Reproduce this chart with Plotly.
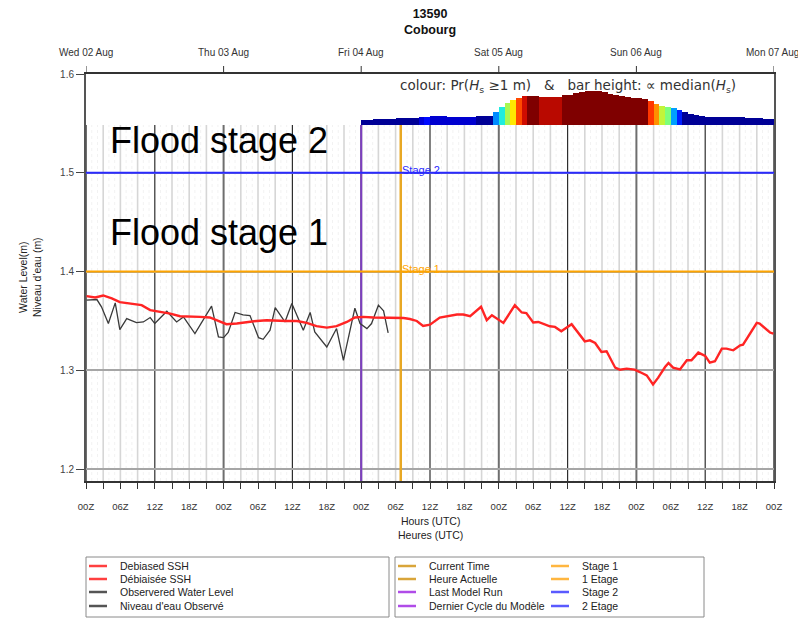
import pandas as pd
import plotly.graph_objects as go

START = pd.Timestamp("2023-08-02 00:00")

# Debiased SSH (hours since start, water level in m)
ssh_hours = [0.1, 1.6, 3.0, 4.5, 5.9, 7.7, 9.7, 11.2, 12.9, 14.7, 16.4, 18.1, 19.9, 21.6,
             23.4, 24.5, 26.3, 28.0, 29.8, 31.5, 33.3, 35.0, 36.8, 38.5, 40.2, 42.0, 43.7,
             45.5, 46.9, 48.4, 50.1, 51.9, 53.6, 55.4, 56.5, 57.7, 58.8, 60.0, 61.7, 63.2,
             64.7, 65.8, 67.0, 68.9, 69.9, 70.8, 71.6, 72.8, 74.8, 76.0, 76.8, 78.0, 78.9,
             80.9, 81.8, 82.9, 84.7, 87.0, 87.9, 88.8, 89.9, 90.8, 92.3, 93.1, 94.3, 95.7,
             96.6, 97.8, 98.9, 99.8, 101.0, 101.6, 102.4, 103.6, 104.8, 105.6, 106.8, 108.0,
             108.8, 109.7, 110.9, 111.7, 112.9, 114.1, 114.6, 117.0, 117.5, 119.3, 119.9]
ssh_level = [1.3751, 1.3738, 1.3758, 1.3728, 1.3690, 1.3677, 1.3660, 1.3610, 1.3592, 1.3575,
             1.3548, 1.3541, 1.3541, 1.3535, 1.3490, 1.3467, 1.3474, 1.3490, 1.3500, 1.3508,
             1.3500, 1.3500, 1.3500, 1.3480, 1.3447, 1.3433, 1.3447, 1.3490, 1.3535, 1.3541,
             1.3535, 1.3535, 1.3530, 1.3530, 1.3520, 1.3500, 1.3449, 1.3463, 1.3535, 1.3548,
             1.3565, 1.3565, 1.3548, 1.3643, 1.3508, 1.3558, 1.3524, 1.3480, 1.3660, 1.3586,
             1.3579, 1.3484, 1.3490, 1.3446, 1.3440, 1.3396, 1.3467, 1.3294, 1.3304, 1.3277,
             1.3186, 1.3193, 1.3027, 1.3007, 1.3017, 1.3007, 1.2983, 1.2949, 1.2858, 1.2926,
             1.3034, 1.3075, 1.3027, 1.3010, 1.3102, 1.3102, 1.3180, 1.3146, 1.3078, 1.3092,
             1.3220, 1.3220, 1.3203, 1.3254, 1.3260, 1.3480, 1.3474, 1.3383, 1.3372]

# Observed water level
obs_hours = [0.1, 1.9, 2.7, 3.9, 5.1, 5.9, 7.1, 8.8, 10.0, 11.2, 12.0, 14.1, 15.8, 17.0,
             19.0, 21.9, 23.1, 24.0, 24.8, 26.0, 27.4, 28.6, 30.1, 30.9, 32.1, 33.0, 34.7,
             35.9, 37.9, 39.1, 39.9, 42.0, 43.7, 44.9, 46.9, 47.8, 49.0, 49.8, 51.0, 51.9, 52.7]
obs_level = [1.3710, 1.3717, 1.3643, 1.3474, 1.3683, 1.3413, 1.3524, 1.3484, 1.3490, 1.3535,
             1.3474, 1.3599, 1.3490, 1.3541, 1.3372, 1.3650, 1.3338, 1.3331, 1.3383, 1.3586,
             1.3562, 1.3555, 1.3331, 1.3314, 1.3406, 1.3636, 1.3490, 1.3677, 1.3406, 1.3586,
             1.3389, 1.3237, 1.3423, 1.3101, 1.3629, 1.3474, 1.3423, 1.3474, 1.3660, 1.3603,
             1.3379]

# Hourly wave forecast from the last model run: Pr(Hs >= 1 m) and median Hs (m)
wave_hours = list(range(48, 120))
wave_prob = [0.02, 0.02, 0.02, 0.02, 0.02, 0.02, 0.02, 0.02, 0.02, 0.02, 0.08, 0.12,
             0.07, 0.07, 0.07, 0.07, 0.07, 0.07, 0.07, 0.07, 0.02, 0.02, 0.02, 0.25,
             0.38, 0.55, 0.65, 0.83, 0.93, 1.00, 1.00, 0.95, 0.95, 0.95, 0.95, 1.00,
             1.00, 1.00, 1.00, 1.00, 1.00, 1.00, 1.00, 1.00, 1.00, 1.00, 1.00, 1.00,
             1.00, 1.00, 0.85, 0.75, 0.58, 0.50, 0.27, 0.14, 0.02, 0.02, 0.02, 0.02,
             0.02, 0.02, 0.02, 0.02, 0.02, 0.02, 0.02, 0.02, 0.02, 0.02, 0.02, 0.02]
wave_hs = [0.20, 0.21, 0.23, 0.23, 0.25, 0.25, 0.28, 0.28, 0.28, 0.29, 0.32, 0.32,
           0.36, 0.36, 0.36, 0.33, 0.33, 0.32, 0.32, 0.34, 0.37, 0.37, 0.37, 0.53,
           0.71, 0.87, 1.00, 1.09, 1.16, 1.17, 1.17, 1.13, 1.11, 1.11, 1.13, 1.20,
           1.20, 1.27, 1.32, 1.36, 1.36, 1.35, 1.31, 1.25, 1.20, 1.16, 1.12, 1.09,
           1.07, 1.03, 0.96, 0.84, 0.77, 0.73, 0.69, 0.60, 0.51, 0.45, 0.40, 0.35,
           0.33, 0.32, 0.31, 0.31, 0.32, 0.32, 0.31, 0.29, 0.28, 0.27, 0.25, 0.23]

last_run_hour = 48
current_hour = 54.9
stage1_level = 1.4
stage2_level = 1.5

day_hours = [0, 24, 48, 72, 96, 120]
day_labels = ["Wed 02 Aug", "Thu 03 Aug", "Fri 04 Aug", "Sat 05 Aug", "Sun 06 Aug", "Mon 07 Aug"]
label_hours = list(range(0, 121, 6))
hour_labels = ["00Z", "06Z", "12Z", "18Z"] * 5 + ["00Z"]
minor_hours = list(range(3, 120, 6))
y_ticks = [1.2, 1.3, 1.4, 1.5, 1.6]
y_tick_labels = ["1.2", "1.3", "1.4", "1.5", "1.6"]

legend_left_labels = ["Debiased SSH", "Débiaisée SSH", "Observered Water Level", "Niveau d'eau Observé"]
legend_left_colors = ["#ff4040", "#ff4040", "#555555", "#555555"]
legend_mid_labels = ["Current Time", "Heure Actuelle", "Last Model Run", "Dernier Cycle du Modèle"]
legend_mid_colors = ["#d9a53a", "#d9a53a", "#b04ce8", "#b04ce8"]
legend_right_labels = ["Stage 1", "1 Etage", "Stage 2", "2 Etage"]
legend_right_colors = ["#ffb640", "#ffb640", "#5a5aff", "#5a5aff"]

# ---------------------------------------------------------------- layout
FONT = "Liberation Sans, Arial, sans-serif"
W, H = 798, 620
L, R, T, B = 86, 24, 74, 139
PW, PH = W - L - R, H - T - B
Y_LO, Y_HI = 1.188, 1.6
STRIP_BOTTOM = 1 - 51 / PH          # paper fraction where the wave strip starts
HS_PER_PX = 1 / 25.0                 # metres of Hs per pixel of bar height
STRIP_TOP_HS = (PH * (1 - STRIP_BOTTOM)) * HS_PER_PX


def ts(h):
    return START + pd.to_timedelta(h, unit="h")


def px_x(px):
    return (px - L) / PW


def px_y(py):
    return (H - B - py) / PH


strip_base_level = Y_LO + STRIP_BOTTOM * (Y_HI - Y_LO)
strip_start = wave_hours[0]

fig = go.Figure()

# event lines
fig.add_trace(go.Scatter(x=[ts(current_hour)] * 2, y=[Y_LO, strip_base_level], mode="lines",
                         line=dict(color="#e8a824", width=2.5), hoverinfo="skip", showlegend=False))
fig.add_trace(go.Scatter(x=[ts(last_run_hour)] * 2, y=[Y_LO, Y_HI], mode="lines",
                         line=dict(color="#7d3fc0", width=2), hoverinfo="skip", showlegend=False))
# flood stages
fig.add_trace(go.Scatter(x=[ts(day_hours[0]), ts(day_hours[-1])], y=[stage1_level] * 2, mode="lines",
                         line=dict(color="#ffa500", width=2), showlegend=False))
fig.add_trace(go.Scatter(x=[ts(day_hours[0]), ts(day_hours[-1])], y=[stage2_level] * 2, mode="lines",
                         line=dict(color="#2a2aff", width=2), showlegend=False))
# observations and debiased forecast
fig.add_trace(go.Scatter(x=[ts(h) for h in obs_hours], y=obs_level, mode="lines",
                         line=dict(color="#3a3a3a", width=1.3), showlegend=False))
fig.add_trace(go.Scatter(x=[ts(h) for h in ssh_hours], y=ssh_level, mode="lines",
                         line=dict(color="#ff2424", width=2.4), showlegend=False))

# wave strip (colour = probability, height = median Hs)
jet = [[0.0, "#00007f"], [0.11, "#0000ff"], [0.34, "#00e5ff"], [0.5, "#7dff7a"],
       [0.65, "#ffea00"], [0.89, "#ff1300"], [1.0, "#7f0000"]]
fig.add_trace(go.Bar(x=[ts(h) for h in wave_hours], y=wave_hs, width=3600 * 1000, offset=0,
                     marker=dict(color=wave_prob, colorscale=jet, cmin=0, cmax=1, line=dict(width=0)),
                     xaxis="x2", yaxis="y2", showlegend=False))

# vertical grid: faint hourly dots, 3-hourly light lines, 12Z dark, 00Z gray
shapes = []
for h in range(day_hours[0], day_hours[-1] + 1):
    if h % 24 == 0:
        style = dict(color="#6e6e6e", width=2)
    elif h % 12 == 0:
        style = dict(color="#2e2e2e", width=1.2)
    elif h % 3 == 0:
        style = dict(color="#d6d6d6", width=1.6)
    else:
        style = dict(color="#f2f2f2", width=1, dash="dot")
    top = 1 if h <= strip_start else STRIP_BOTTOM
    shapes.append(dict(type="line", xref="x", yref="paper", x0=ts(h), x1=ts(h), y0=0, y1=top,
                       line=style, layer="below"))

annotations = []
# day labels and ticks along the top edge
for i, (h, lab) in enumerate(zip(day_hours, day_labels)):
    shapes.append(dict(type="line", xref="x", yref="paper", x0=ts(h), x1=ts(h), y0=1, y1=px_y(66),
                       line=dict(color="#333", width=1)))
    annotations.append(dict(text=lab, x=ts(h), y=px_y(52), xref="x", yref="paper", showarrow=False,
                            font=dict(family=FONT, size=10, color="#333"), xanchor="center",
                            yanchor="middle", xshift=-2 if i == len(day_hours) - 1 else 0))
# title
annotations.append(dict(text="<b>13590</b><br><b>Cobourg</b>", x=0.5, y=px_y(22), xref="paper", yref="paper",
                        showarrow=False, font=dict(family=FONT, size=12.5, color="#111"), xanchor="center",
                        yanchor="middle"))
# axis titles
annotations.append(dict(text="Hours (UTC)<br>Heures (UTC)", x=0.5, y=px_y(528), xref="paper", yref="paper",
                        showarrow=False, font=dict(family=FONT, size=10.5, color="#222"), xanchor="center",
                        yanchor="middle"))
annotations.append(dict(text="Water Level(m)<br>Niveau d'eau (m)", x=px_x(30), y=px_y(277), xref="paper",
                        yref="paper", textangle=-90, showarrow=False,
                        font=dict(family=FONT, size=10.5, color="#222"), xanchor="center", yanchor="middle"))
# wave strip caption
annotations.append(dict(text="colour: Pr(<i>H</i><sub>s</sub> \u22651 m)\u00a0\u00a0\u00a0&\u00a0\u00a0\u00a0bar height:"
                             "\u00a0\u221d median(<i>H</i><sub>s</sub>)",
                        x=px_x(568), y=px_y(86), xref="paper", yref="paper", showarrow=False,
                        font=dict(family="DejaVu Sans, sans-serif", size=13.5, color="#333"),
                        xanchor="center", yanchor="middle"))
# flood stage headings
for txt, py in [("Flood stage 2", 140), ("Flood stage 1", 232)]:
    annotations.append(dict(text=txt, x=px_x(108), y=px_y(py), xref="paper", yref="paper", showarrow=False,
                            font=dict(family=FONT, size=36, color="#000"), xanchor="left", yanchor="middle"))
# stage line labels
for txt, lvl, col in [("Stage 2", stage2_level, "#2a2aff"), ("Stage 1", stage1_level, "#ffa500")]:
    annotations.append(dict(text=txt, x=ts(current_hour), y=lvl, xref="x", yref="y", showarrow=False,
                            font=dict(family=FONT, size=11, color=col), xanchor="left", yanchor="middle",
                            yshift=3, xshift=-1))

# legend boxes
for x0, x1 in [(86, 389), (395, 704)]:
    shapes.append(dict(type="rect", xref="paper", yref="paper", x0=px_x(x0), x1=px_x(x1),
                       y0=px_y(617), y1=px_y(557), line=dict(color="#8a8a8a", width=1)))
row_py = [566, 579, 592, 606]
for labels, colors, lx0, lx1, tx in [(legend_left_labels, legend_left_colors, 89, 107, 118),
                                     (legend_mid_labels, legend_mid_colors, 398, 416, 427),
                                     (legend_right_labels, legend_right_colors, 551, 569, 580)]:
    for lab, col, py in zip(labels, colors, row_py):
        shapes.append(dict(type="line", xref="paper", yref="paper", x0=px_x(lx0), x1=px_x(lx1),
                           y0=px_y(py), y1=px_y(py), line=dict(color=col, width=2.5)))
        annotations.append(dict(text=lab, x=px_x(tx), y=px_y(py), xref="paper", yref="paper",
                                showarrow=False, font=dict(family=FONT, size=10.5, color="#222"),
                                xanchor="left", yanchor="middle"))

x_range = [ts(day_hours[0]), ts(day_hours[-1])]
fig.update_layout(
    width=W, height=H, autosize=False,
    margin=dict(l=L, r=R, t=T, b=B),
    paper_bgcolor="white", plot_bgcolor="white",
    font=dict(family=FONT, size=10, color="#333"),
    showlegend=False, bargap=0,
    xaxis=dict(type="date", range=x_range, domain=[0, 1], anchor="y",
               tickmode="array", tickvals=[ts(h) for h in label_hours], ticktext=hour_labels,
               ticks="outside", ticklen=6, tickwidth=1, tickcolor="#333",
               minor=dict(tickmode="array", tickvals=[ts(h) for h in minor_hours],
                          ticks="outside", ticklen=6, tickwidth=1, tickcolor="#333", showgrid=False),
               ticklabelstandoff=10, tickfont=dict(size=9.5, color="#333"),
               showgrid=False, zeroline=False, showline=True, linecolor="#333", linewidth=2, mirror=True),
    xaxis2=dict(type="date", matches="x", anchor="y2", domain=[0, 1], visible=False),
    yaxis=dict(range=[Y_LO, Y_HI], domain=[0, 1], anchor="x",
               tickmode="array", tickvals=y_ticks, ticktext=y_tick_labels,
               ticks="outside", ticklen=8, tickwidth=1, tickcolor="#444",
               tickfont=dict(size=10, color="#444"),
               showgrid=True, gridcolor="#a6a6a6", gridwidth=2, zeroline=False,
               showline=True, linecolor="#555", linewidth=2, mirror=True),
    yaxis2=dict(range=[0, STRIP_TOP_HS], domain=[STRIP_BOTTOM, 1], anchor="x2", visible=False),
    shapes=shapes, annotations=annotations,
)

fig.write_html("out.html")
